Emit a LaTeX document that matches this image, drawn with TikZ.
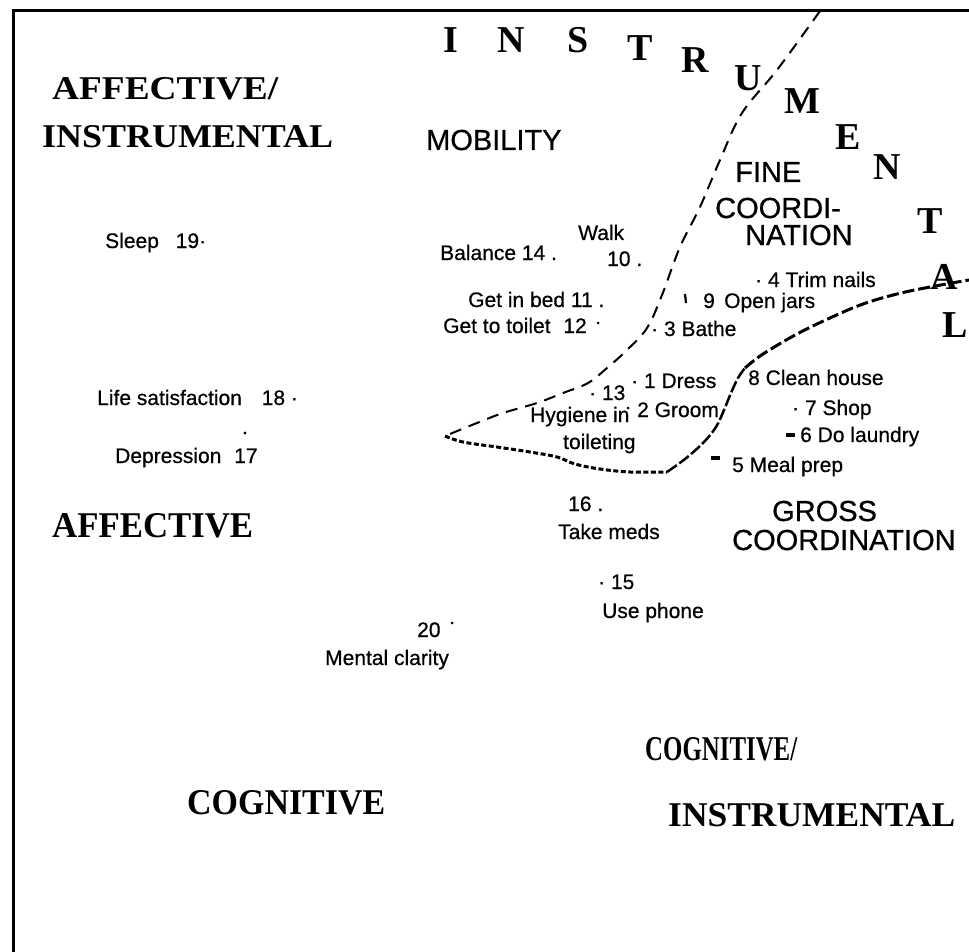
\documentclass[tikz,border=0pt]{standalone}
\usepackage{graphicx}
\usepackage{fontspec}
\setmainfont{Liberation Serif}
\newfontfamily\labfont[FakeBold=0.6]{Liberation Sans}
\begin{document}
\begin{tikzpicture}[x=1pt,y=-1pt,
  lab/.style={font=\labfont\fontsize{21}{24}\selectfont, inner sep=0pt, anchor=base west},
  big/.style={font=\labfont\fontsize{29}{31}\selectfont, inner sep=0pt, anchor=base west},
  arcl/.style={font=\bfseries\fontsize{38}{40}\selectfont, inner sep=0pt},
  head/.style={inner sep=0pt, anchor=base west},
  pt/.style={circle, fill=black, inner sep=0pt, minimum size=3.4pt},
  bndA/.style={line width=2pt, dash pattern=on 12pt off 8pt},
  bndB/.style={line width=3pt, dash pattern=on 5pt off 2.5pt},
  bndC/.style={line width=2.5pt, dash pattern=on 12pt off 3pt},
  bndD/.style={line width=3pt, dash pattern=on 12pt off 4pt}
]
\useasboundingbox (0,0) rectangle (969,952);
% frame
\draw[line width=3pt] (969,10.5) -- (13,10.5) -- (13,952);

% boundary junctions
\coordinate (ta) at (820,11);
\coordinate (lc) at (445,436);
\coordinate (bc) at (667,472);
\coordinate (kn) at (745,368);
\coordinate (re) at (969,280);

\draw[bndA] plot[smooth, tension=0.6] coordinates {(ta) (777,70) (742,113) (720,160) (700,207) (680,247) (662,295) (647,328) (627,350) (607,368) (588,383) (563,393) (537,403) (503,413) (477,423) (lc)};
\draw[bndB] plot[smooth, tension=0.6] coordinates {(lc) (463,442) (497,447) (530,452) (557,457) (575,464) (600,469) (630,472) (bc)};
\draw[bndC] plot[smooth, tension=0.6] coordinates {(bc) (685,459) (703,443) (716,427) (724,410) (731,393) (738,378) (kn)};
\draw[bndD] plot[smooth, tension=0.6] coordinates {(kn) (763,354) (797,334) (830,318) (863,304) (897,294) (930,287) (re)};

% arched INSTRUMENTAL
\node[arcl] (a1) at (451,40) {I};
\node[arcl] (a2) at (511,40) {N};
\node[arcl] (a3) at (578,40) {S};
\node[arcl] (a4) at (640,48) {T};
\node[arcl] (a5) at (695,60) {R};
\node[arcl] (a6) at (748,78) {U};
\node[arcl] (a7) at (802,101) {M};
\node[arcl] (a8) at (848,137) {E};
\node[arcl] (a9) at (887,167) {N};
\node[arcl] (a10) at (930,221) {T};
\node[arcl] (a11) at (944,277) {A};
\node[arcl] (a12) at (955,325) {L};

% headings
\node[head] (h1) at (52,100) {\resizebox{226pt}{22pt}{\bfseries AFFECTIVE/}};
\node[head] (h2) at (42,148) {\resizebox{291pt}{22pt}{\bfseries INSTRUMENTAL}};
\node[head] (h3) at (52,537) {\resizebox{201pt}{24pt}{\bfseries AFFECTIVE}};
\node[head] (h4) at (187,814) {\resizebox{198pt}{24pt}{\bfseries COGNITIVE}};
\node[head] (h5) at (645,760) {\resizebox{152pt}{23pt}{\bfseries COGNITIVE/}};
\node[head] (h6) at (668,826) {\resizebox{287pt}{23pt}{\bfseries INSTRUMENTAL}};

% area labels
\node[big] (mob) at (426,150) {MOBILITY};
\node[big] (fine1) at (735,182) {FINE};
\node[big] (fine2) at (715,218) {COORDI-};
\node[big] (fine3) at (745,245) {NATION};
\node[big] (gross1) at (772,521) {GROSS};
\node[big] (gross2) at (732,550) {COORDINATION};

% items
\node[lab] (sleep) at (105,248) {Sleep\hspace{11pt} 19·};
\node[lab] (life) at (97,405) {Life satisfaction\hspace{14pt} 18 ·};
\node[pt] (d17) at (245,433) {};
\node[lab] (dep) at (115,463) {Depression\hspace{7pt} 17};
\node[lab] (bal) at (440,260) {Balance 14 .};
\node[lab] (walk) at (578,240) {Walk};
\node[lab] (ten) at (607,266) {10 .};
\node[lab] (bed) at (468,307) {Get in bed 11 .};
\node[lab] (toil) at (443,333) {Get to toilet\hspace{7pt} 12};
\node[pt, minimum size=3pt] (d12) at (598,323) {};
\node[lab] (trim) at (755,287) {· 4 Trim nails};
\draw[line width=2.2pt] (685,294) -- (686,303);
\node[lab] (jars) at (703,308) {9 \,Open jars};
\node[lab] (bathe) at (651,336) {· 3 Bathe};
\node[lab] (thirteen) at (589,400) {· 13};
\node[lab] (dress) at (631,388) {· 1 Dress};
\node[lab] (hyg1) at (530,422) {Hygiene in};
\node[pt, minimum size=3pt] (d2) at (628,408) {};
\node[lab] (groom) at (637,417) {2 Groom};
\node[lab] (hyg2) at (563,449) {toileting};
\node[lab] (clean) at (748,385) {8 Clean house};
\node[lab] (shop) at (792,415) {· 7 Shop};
\fill (786,433) rectangle (795,436.5);
\node[lab] (laundry) at (800,442) {6 Do laundry};
\fill (711,456) rectangle (720,459.5);
\node[lab] (meal) at (732,472) {5 Meal prep};
\node[lab] (sixteen) at (568,511) {16 .};
\node[lab] (meds) at (558,539) {Take meds};
\node[lab] (fifteen) at (598,589) {· 15};
\node[lab] (phone) at (602,618) {Use phone};
\node[lab] (twenty) at (417,637) {20};
\node[pt, minimum size=3pt] (d20) at (452,623) {};
\node[lab] (clar) at (325,665) {Mental clarity};
\end{tikzpicture}
\end{document}
